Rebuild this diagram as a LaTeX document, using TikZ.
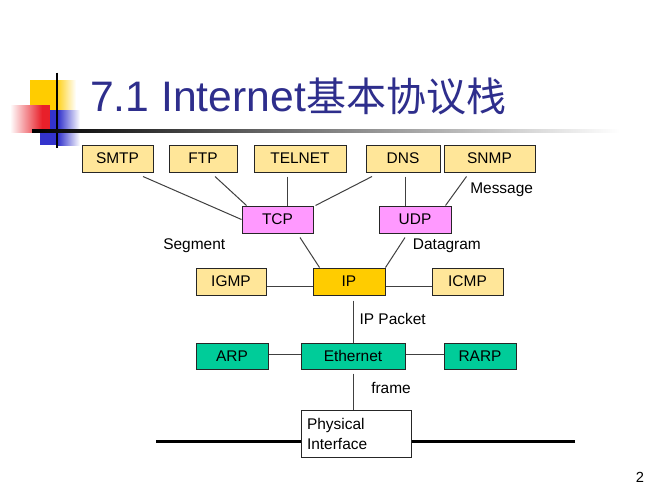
\documentclass[tikz,border=0pt]{standalone}
\usepackage{fontspec}
\setmainfont{Liberation Sans}
\newfontfamily\cjkfont{Noto Sans CJK SC}
\usetikzlibrary{calc}
\definecolor{appY}{HTML}{FFE699}
\definecolor{tpPink}{HTML}{FF99FF}
\definecolor{ipGold}{HTML}{FFCC00}
\definecolor{lnGreen}{HTML}{00CC99}
\definecolor{titleBlue}{HTML}{2E2E8C}
\definecolor{logoYellow}{HTML}{FFCC00}
\definecolor{logoRed}{HTML}{E8202A}
\definecolor{logoBlue}{HTML}{3333CC}
\begin{document}
\begin{tikzpicture}[x=0.75pt,y=-0.75pt,
  box/.style={draw=black!85, line width=0.75pt, inner sep=0pt, minimum height=20.25pt, font=\fontsize{11.6}{14}\selectfont},
  link/.style={draw=black!75, line width=0.75pt},
  bus/.style={draw=black, line width=2.25pt},
  lbl/.style={anchor=west, inner sep=0pt, font=\fontsize{11.6}{14}\selectfont}]
\useasboundingbox[fill=white] (0,0) rectangle (667,500);

% logo
\fill[logoYellow] (30,80) rectangle (55,110);
\shade[left color=logoYellow, right color=white] (55,80) rectangle (76,110);
\fill[logoBlue] (40,110) rectangle (58,145);
\shade[left color=logoBlue, right color=white] (58,110) rectangle (80,145);
\shade[left color=white, right color=logoRed] (10,105) rectangle (42,132);
\fill[logoRed] (42,105) rectangle (50,132);
\draw[black, line width=1.2pt] (56.7,72.7) -- (56.7,148);
\shade[left color=black, right color=white] (32,129.5) rectangle (620,132);

% title
\node[anchor=base west, inner sep=0pt, text=titleBlue, font=\fontsize{32}{36}\selectfont] (title) at (90,111.7)
  {7.1 Internet{\cjkfont\fontsize{30}{36}\selectfont 基本协议栈}};

% boxes
\node[box, fill=appY, minimum width=53.25pt] (SMTP) at (117.5,158.5) {SMTP};
\node[box, fill=appY, minimum width=51pt] (FTP) at (203,158.5) {FTP};
\node[box, fill=appY, minimum width=69pt] (TELNET) at (300,158.5) {TELNET};
\node[box, fill=appY, minimum width=55.5pt] (DNS) at (403,158.5) {DNS};
\node[box, fill=appY, minimum width=68.25pt] (SNMP) at (489.5,158.5) {SNMP};
\node[box, fill=tpPink, minimum width=53.25pt] (TCP) at (277.5,219.5) {TCP};
\node[box, fill=tpPink, minimum width=54pt] (UDP) at (415,219.5) {UDP};
\node[box, fill=appY, minimum width=52.5pt] (IGMP) at (231,281.5) {IGMP};
\node[box, fill=ipGold, minimum width=54pt] (IP) at (349,281.5) {IP};
\node[box, fill=appY, minimum width=53.25pt] (ICMP) at (467.5,281.5) {ICMP};
\node[box, fill=lnGreen, minimum width=54pt, minimum height=19.5pt] (ARP) at (232,356) {ARP};
\node[box, fill=lnGreen, minimum width=78pt, minimum height=19.5pt] (Ethernet) at (353,356) {Ethernet};
\node[box, fill=lnGreen, minimum width=54pt, minimum height=19.5pt] (RARP) at (480,356) {RARP};
\node[box, fill=white, minimum height=35.25pt, text width=73.5pt, inner xsep=4.5pt, inner ysep=0pt,
  align=left, font=\fontsize{11.6}{15}\selectfont] (Phys) at (356,433.5) {Physical\\Interface};

% bus
\coordinate (busL) at (156,441);
\coordinate (busR) at (575,441);
\draw[bus] (busL) -- (busL -| Phys.west);
\draw[bus] (busR) -- (busR -| Phys.east);

% links
\draw[link] ($(SMTP.south)+(25.5,4)$) -- (TCP.west);
\draw[link] ($(FTP.south)+(12,4)$) -- ($(TCP.north west)+(5,0)$);
\draw[link] ($(TELNET.south)+(-13,4)$) -- ($(TCP.north)+(9.5,0)$);
\draw[link] ($(DNS.south)+(-31,4)$) -- ($(TCP.north east)+(2,0)$);
\draw[link] ($(DNS.south)+(2,4)$) -- ($(UDP.north)+(-10,0)$);
\draw[link] ($(SNMP.south)+(-23,4)$) -- ($(UDP.north east)+(-6,0)$);
\draw[link] ($(TCP.south)+(22.5,4)$) -- ($(IP.north west)+(7,0)$);
\draw[link] ($(UDP.south)+(-10,4)$) -- (IP.north east);
\draw[link] ($(IGMP.east)+(0,4.5)$) -- ($(IP.west)+(0,4.5)$);
\draw[link] ($(IP.east)+(0,4.5)$) -- ($(ICMP.west)+(0,4.5)$);
\draw[link] ($(IP.south)+(4,5)$) -- (Ethernet.north);
\draw[link] ($(ARP.east)+(0,-1.5)$) -- ($(Ethernet.west)+(0,-1.5)$);
\draw[link] ($(Ethernet.east)+(0,-1.5)$) -- ($(RARP.west)+(0,-1.5)$);
\draw[link] ($(Ethernet.south)+(0,4)$) -- ($(Phys.north)+(-3,0)$);

% labels
\node[lbl] (msg) at (470,190) {Message};
\node[lbl] (seg) at (163,246) {Segment};
\node[lbl] (dgram) at (412.7,246) {Datagram};
\node[lbl] (ippkt) at (359.3,319.3) {IP Packet};
\node[lbl] (frm) at (371,388.3) {frame};

% page number
\node[inner sep=0pt, font=\fontsize{11}{13}\selectfont] (pg) at (640,477) {2};
\end{tikzpicture}
\end{document}
